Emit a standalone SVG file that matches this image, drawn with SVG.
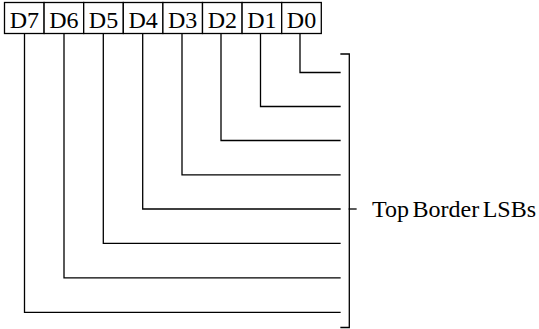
<svg xmlns="http://www.w3.org/2000/svg" width="539" height="329" viewBox="0 0 539 329">
<style>
.ln{fill:none;stroke:#000;stroke-width:1.3;stroke-linecap:square}
.cell{fill:#fff;stroke:#000;stroke-width:1.3}
</style>
<rect width="539" height="329" fill="#fff"/>
<g id="register" font-family="Liberation Serif" font-size="24" text-anchor="middle" fill="#000">
<g id="d7"><rect class="cell" x="4.5" y="2.5" width="39.6" height="31"/><text x="24.3" y="27.5">D7</text></g>
<g id="d6"><rect class="cell" x="44.1" y="2.5" width="39.6" height="31"/><text x="63.9" y="27.5">D6</text></g>
<g id="d5"><rect class="cell" x="83.7" y="2.5" width="39.6" height="31"/><text x="103.5" y="27.5">D5</text></g>
<g id="d4"><rect class="cell" x="123.3" y="2.5" width="39.6" height="31"/><text x="143.1" y="27.5">D4</text></g>
<g id="d3"><rect class="cell" x="162.9" y="2.5" width="39.6" height="31"/><text x="182.7" y="27.5">D3</text></g>
<g id="d2"><rect class="cell" x="202.5" y="2.5" width="39.6" height="31"/><text x="222.3" y="27.5">D2</text></g>
<g id="d1"><rect class="cell" x="242.1" y="2.5" width="39.6" height="31"/><text x="261.9" y="27.5">D1</text></g>
<g id="d0"><rect class="cell" x="281.7" y="2.5" width="39.6" height="31"/><text x="301.5" y="27.5">D0</text></g>
</g>
<g id="connectors">
<path class="ln" d="M300 34V72.5H340"/>
<path class="ln" d="M260.5 34V106.5H340"/>
<path class="ln" d="M221 34V140.5H340"/>
<path class="ln" d="M182 34V174.8H340"/>
<path class="ln" d="M142.7 34V209H340"/>
<path class="ln" d="M103.3 34V243.3H340"/>
<path class="ln" d="M64 34V277.8H340"/>
<path class="ln" d="M24.5 34V312.3H340"/>
</g>
<g id="bracket">
<path class="ln" d="M341 54H349.3V327.5H341"/>
<path class="ln" d="M349.3 209H356"/>
<text x="372" y="216.5" font-family="Liberation Serif" font-size="24" word-spacing="-2.5" fill="#000">Top Border LSBs</text>
</g>
</svg>
